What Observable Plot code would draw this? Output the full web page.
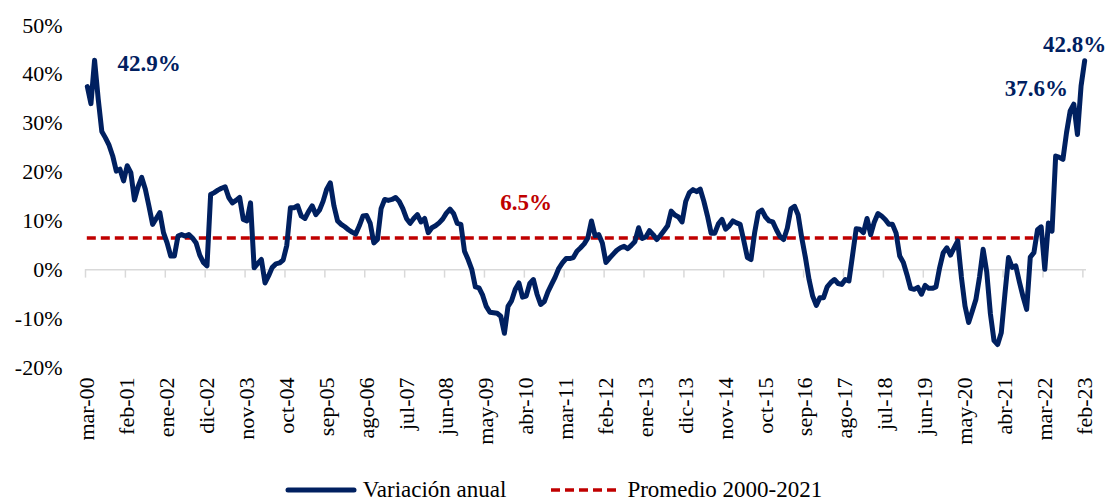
<!DOCTYPE html>
<html>
<head>
<meta charset="utf-8">
<script src="https://cdn.jsdelivr.net/npm/d3@7"></script>
<script src="https://cdn.jsdelivr.net/npm/@observablehq/plot@0.6"></script>
<style>
  html, body { margin: 0; padding: 0; background: #fff; }
  body { width: 1107px; font-family: "Liberation Serif", "Times New Roman", serif; }
  #legend { display: flex; justify-content: center; align-items: center; height: 40px; font-size: 23px; color: #000; }
  #legend .item { display: flex; align-items: center; }
  #legend .item + .item { margin-left: 43px; }
  #legend svg { margin-right: 6px; }
</style>
</head>
<body>
<div id="chart"></div>
<div id="legend"></div>
<script>
// ---- Data ----
const tickLabels = ["mar-00","feb-01","ene-02","dic-02","nov-03","oct-04","sep-05","ago-06","jul-07","jun-08",
  "may-09","abr-10","mar-11","feb-12","ene-13","dic-13","nov-14","oct-15","sep-16","ago-17",
  "jul-18","jun-19","may-20","abr-21","mar-22","feb-23"];
const monthAbbr = ["ene","feb","mar","abr","may","jun","jul","ago","sep","oct","nov","dic"];
const seriesNames = ["Variación anual", "Promedio 2000-2021"];

// monthly annual variation (%), mar-00 .. feb-23
const variacionAnual = [
  37.5, 34, 42.9, 35, 28.3, 27, 25.5, 23.3, 20.2, 20.6, 18.2,
  21.3, 19.9, 14.3, 17, 18.9, 16.5, 13, 9.3, 10.5, 11.7, 7.6,
  5.5, 2.8, 2.8, 6.9, 7.2, 6.9, 7.2, 6.5, 5.5, 3, 1.5,
  0.8, 15.4, 15.8, 16.3, 16.7, 17, 14.8, 13.7, 14.2, 14.8, 10.3,
  10, 13.7, 0.4, 1.3, 2.1, -2.7, -1.2, 0.5, 1.2, 1.4, 2,
  5, 12.7, 12.7, 13.1, 11, 10.5, 11.9, 13.1, 11.3, 12.2, 14,
  16.5, 17.8, 13.1, 10, 9.3, 8.8, 8.2, 7.7, 7.3, 9, 11,
  11.1, 9.5, 5.5, 6.2, 12.5, 14.4, 14.2, 14.4, 14.8, 14, 12.5,
  10.5, 9.5, 10.5, 11.3, 9.8, 10.5, 7.6, 8.6, 9, 9.6, 10.4,
  11.6, 12.4, 11.5, 9.5, 9.3, 3.8, 2.1, 0.1, -3.5, -3.7, -5.2,
  -7.5, -8.7, -8.8, -8.9, -9.5, -13, -7.5, -6.3, -4, -2.7, -5.6,
  -5.4, -2.8, -2, -5, -7.1, -6.5, -4.5, -3, -1.5, 0.3, 1.4,
  2.3, 2.3, 2.5, 3.8, 4.5, 5.3, 6.5, 10, 7, 7.2, 5.5,
  1.5, 2.4, 3.2, 4, 4.5, 4.8, 4.3, 5, 5.8, 8.6, 6.4,
  6.7, 8, 7.2, 6.2, 7, 8, 9, 12, 11.2, 10.8, 9.8,
  14, 15.8, 16.4, 16, 16.5, 14, 11, 7.5, 7.5, 9.4, 10.3,
  8.3, 9, 10, 9.6, 9.3, 6, 2.5, 2.1, 7.6, 11.7, 12.2,
  10.8, 10, 9.8, 8.2, 6.8, 6.2, 8.5, 12.5, 13, 11.2, 6.5,
  2.5, -2, -5.4, -7.3, -5.7, -5.7, -3.5, -2.6, -2, -2.8, -3,
  -2, -2.3, 3, 8.4, 8.3, 7.6, 10.5, 7.2, 9.8, 11.5, 11,
  10.3, 9.3, 9.3, 7.5, 2.8, 1.5, -1, -3.8, -4, -3.6, -5,
  -3.2, -3.8, -3.8, -3.5, 0.4, 3.5, 4.5, 3, 4.5, 5.9, -1.5,
  -7.4, -10.8, -8.5, -6.1, -1.5, 4.2, -0.5, -9, -14.5, -15.3, -12.9,
  -5, 2.5, 0.5, 0.8, -2.5, -5.5, -8.1, 2.6, 3.5, 8.2, 8.8,
  0.1, 9.6, 7.9, 23.3, 23, 22.6, 28.1, 32.5, 33.9, 27.7, 37.6,
  42.8
];
const promedio = 6.5;
const promedioStart = "mar-00", promedioEnd = "dic-21";
const avgLabelAt = "abr-10";
const highlight = [{month: "may-00", side: "right"}, {month: "ene-23", side: "left"}, {month: "feb-23", side: "top"}];
const yTicks = [-20, -10, 0, 10, 20, 30, 40, 50];

// ---- helpers ----
const tickStep = 11;
function monthIndex(label) {
  const [m, y] = label.split("-");
  const first = tickLabels[0].split("-");
  return (+y - +first[1]) * 12 + monthAbbr.indexOf(m) - monthAbbr.indexOf(first[0]);
}
const n = variacionAnual.length;
const data = variacionAnual.map((v, i) => ({i, v}));
const tickIdx = tickLabels.map((_, k) => k * tickStep);
const tickBounds = tickIdx.map(i => i - 0.5);
const fmt = v => v.toFixed(1) + "%";
const hl = side => highlight.filter(h => h.side === side).map(h => data[monthIndex(h.month)]);

const navy = "#002060", red = "#c00000", grey = "#d9d9d9";
const font = "Liberation Serif, Times New Roman, serif";

const chart = Plot.plot({
  width: 1107,
  height: 470,
  marginLeft: 85,
  marginRight: 21,
  marginTop: 25,
  marginBottom: 103,
  style: {fontFamily: font, fontSize: "22px", color: "#000", background: "#fff", overflow: "visible"},
  x: {domain: [-0.5, n - 0.5]},
  y: {domain: [yTicks[0], yTicks[yTicks.length - 1]]},
  marks: [
    Plot.axisY({ticks: yTicks, tickSize: 0, tickPadding: 23, tickFormat: d => d + "%", fontSize: 22, label: null}),
    Plot.axisX({ticks: tickIdx, tickSize: 0, tickPadding: 10, tickRotate: -90,
      tickFormat: i => tickLabels[i / tickStep], fontSize: 22, label: null}),
    Plot.ruleY([0], {x1: -0.5, x2: n - 0.5, stroke: grey, strokeWidth: 1.5}),
    Plot.ruleX(tickBounds, {x: d => d, y1: 0, y2: -1.7, stroke: grey, strokeWidth: 1.5}),
    Plot.ruleY([promedio], {x1: monthIndex(promedioStart), x2: monthIndex(promedioEnd),
      stroke: red, strokeWidth: 3.5, strokeDasharray: "9,5"}),
    Plot.line(data, {x: "i", y: "v", stroke: navy, strokeWidth: 5,
      strokeLinejoin: "round", strokeLinecap: "round"}),
    Plot.text(hl("right"), {x: "i", y: "v", text: d => fmt(d.v), dx: 23, dy: 3, textAnchor: "start",
      fill: navy, fontWeight: "bold", fontSize: 23, fontFamily: font}),
    Plot.text(hl("left"), {x: "i", y: "v", text: d => fmt(d.v), dx: -13, dy: 3, textAnchor: "end",
      fill: navy, fontWeight: "bold", fontSize: 23, fontFamily: font}),
    Plot.text(hl("top"), {x: "i", y: "v", text: d => fmt(d.v), dx: -10, dy: -16, textAnchor: "middle",
      fill: navy, fontWeight: "bold", fontSize: 23, fontFamily: font}),
    Plot.text([promedio], {x: monthIndex(avgLabelAt), y: d => d, text: d => fmt(d), dy: -35,
      fill: red, fontWeight: "bold", fontSize: 23, fontFamily: font})
  ]
});
document.getElementById("chart").appendChild(chart);

// ---- legend ----
const legend = d3.select("#legend");
const it1 = legend.append("div").attr("class", "item");
it1.append("svg").attr("width", 72).attr("height", 12)
  .append("line").attr("x1", 3).attr("x2", 69).attr("y1", 6).attr("y2", 6)
  .attr("stroke", navy).attr("stroke-width", 5).attr("stroke-linecap", "round");
it1.append("span").text(seriesNames[0]);
const it2 = legend.append("div").attr("class", "item");
it2.append("svg").attr("width", 72).attr("height", 12)
  .append("line").attr("x1", 2).attr("x2", 70).attr("y1", 6).attr("y2", 6)
  .attr("stroke", red).attr("stroke-width", 3.5).attr("stroke-dasharray", "9,5");
it2.append("span").text(seriesNames[1]);
</script>
</body>
</html>
